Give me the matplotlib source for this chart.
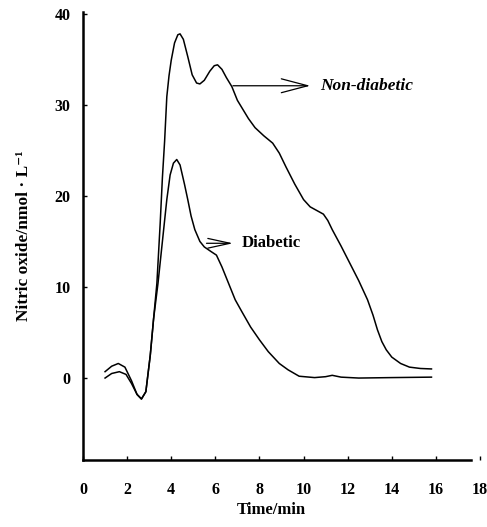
import matplotlib
matplotlib.use("Agg")
import matplotlib.pyplot as plt

# Non-diabetic curve (time in min, NO in nmol/L)
t_nondiab = [1.0, 1.3, 1.6, 1.9, 2.2, 2.45, 2.65, 2.85, 3.05, 3.2, 3.35, 3.5, 3.6, 3.7,
             3.8, 3.9, 4.0, 4.15, 4.3, 4.4, 4.55, 4.75, 4.95, 5.15, 5.3, 5.5, 5.75, 5.95,
             6.1, 6.3, 6.5, 6.75, 7.0, 7.2, 7.5, 7.8, 8.2, 8.6, 8.9, 9.2, 9.6, 10.0, 10.3,
             10.6, 10.9, 11.1, 11.3, 11.7, 12.1, 12.5, 12.9, 13.15, 13.35, 13.55, 13.75, 14.0, 14.4,
             14.8, 15.3, 15.8]
no_nondiab = [0.7, 1.3, 1.6, 1.2, -0.3, -1.8, -2.3, -1.5, 2.5, 6.5, 10.4, 17.0, 22.0, 26.0,
              30.9, 33.2, 34.9, 36.8, 37.7, 37.8, 37.2, 35.3, 33.3, 32.4, 32.3, 32.7, 33.7, 34.3,
              34.4, 33.9, 33.0, 32.0, 30.5, 29.7, 28.5, 27.5, 26.6, 25.8, 24.7, 23.2, 21.3, 19.6, 18.8,
              18.4, 18.0, 17.3, 16.3, 14.5, 12.6, 10.7, 8.6, 6.9, 5.3, 4.0, 3.1, 2.3, 1.6,
              1.2, 1.05, 1.0]

# Diabetic curve
t_diab = [1.0, 1.3, 1.65, 1.95, 2.2, 2.45, 2.65, 2.85, 3.05, 3.2, 3.4, 3.6, 3.8, 3.95,
          4.1, 4.25, 4.4, 4.6, 4.75, 4.9, 5.07, 5.3, 5.5, 5.8, 6.05, 6.3, 6.6, 6.9, 7.2,
          7.6, 8.0, 8.4, 8.9, 9.3, 9.8, 10.5, 11.0, 11.3, 11.7, 12.5, 14.0, 15.8]
no_diab = [0.0, 0.5, 0.7, 0.4, -0.6, -1.8, -2.3, -1.5, 2.5, 6.5, 10.4, 15.0, 19.6, 22.3,
           23.6, 24.0, 23.4, 21.3, 19.6, 17.8, 16.3, 15.0, 14.4, 13.9, 13.5, 12.2, 10.4, 8.6, 7.3,
           5.6, 4.2, 2.9, 1.6, 0.9, 0.2, 0.05, 0.15, 0.3, 0.1, 0.0, 0.05, 0.1]

x_ticks = [0, 2, 4, 6, 8, 10, 12, 14, 16, 18]
y_ticks = [0, 10, 20, 30, 40]

serif = "Liberation Serif"
fig = plt.figure(figsize=(4.87, 5.27), dpi=100)
ax = fig.add_axes([83/487, 67/527, 397/487, 448/527])

ax.plot(t_nondiab, no_nondiab, color="black", lw=1.1)
ax.plot(t_diab, no_diab, color="black", lw=1.1)

ax.set_xlim(0, 18)
ax.set_ylim(-9, 40.2)
ax.spines["top"].set_visible(False)
ax.spines["right"].set_visible(False)
ax.spines["left"].set_linewidth(1.8)
ax.spines["bottom"].set_linewidth(1.8)
ax.spines["bottom"].set_bounds(0, 17.6)

ax.set_xticks(x_ticks)
ax.set_yticks(y_ticks)
ax.tick_params(axis="x", direction="in", length=3, width=1, pad=16)
ax.tick_params(axis="y", direction="in", length=3, width=1, pad=9)
for lab in ax.get_xticklabels() + ax.get_yticklabels():
    lab.set_fontfamily(serif)
    lab.set_fontweight("bold")
    lab.set_fontsize(11.5)

ax.set_xlabel("Time/min", fontfamily=serif, fontweight="bold", fontsize=12)
ax.xaxis.set_label_coords(0.475, -0.094)
ax.set_ylabel("Nitric oxide/nmol · L\u207b\u00b9", fontfamily=[serif, "DejaVu Serif"],
              fontweight="bold", fontsize=12.5)
ax.yaxis.set_label_coords(-0.128, 0.5)

ax.annotate("", xy=(10.3, 32.1), xytext=(6.8, 32.1),
            arrowprops=dict(arrowstyle="->,head_length=1.9,head_width=0.5", color="black",
                            lw=0.9, shrinkA=0, shrinkB=0, mutation_scale=10))
ax.text(10.75, 32.1, "Non-diabetic", fontfamily=serif, fontweight="bold", fontstyle="italic",
        fontsize=12.5, va="center", ha="left")

ax.annotate("", xy=(6.8, 14.8), xytext=(5.6, 14.8),
            arrowprops=dict(arrowstyle="->,head_length=1.6,head_width=0.35", color="black",
                            lw=0.9, shrinkA=0, shrinkB=0, mutation_scale=10))
ax.text(7.2, 14.8, "Diabetic", fontfamily=serif, fontweight="bold",
        fontsize=12, va="center", ha="left")

fig.savefig("out.png", dpi=100)
